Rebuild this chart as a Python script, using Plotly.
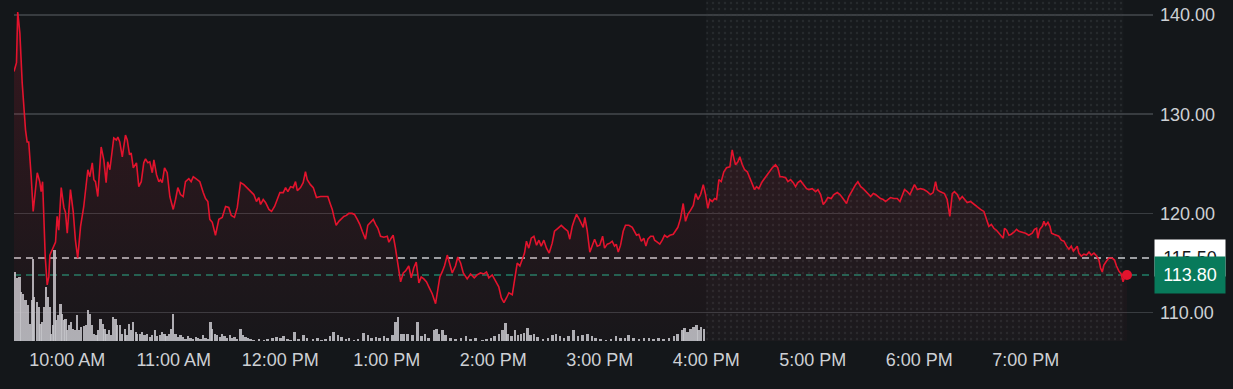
import pandas as pd
import plotly.graph_objects as go

# ---------------- data ----------------
session_date = "2024-06-12"
open_time = "09:30"

# price readings: minutes after the 9:30 open, and price
price_minutes = [
    0, 1.4, 2.1, 3.3, 4.6, 6.5, 7.4, 8.3, 9.7, 10.8,
    13.1, 14.5, 15.3, 16.1, 16.8, 17.6, 18.7, 19.6, 20.2, 22.1,
    23.4, 24.3, 25.2, 26.6, 28.1, 29.0, 30.0, 31.8, 33.4, 34.6,
    35.9, 37.5, 39.3, 41.6, 42.7, 44.1, 45.0, 45.9, 47.2, 49.1,
    50.6, 51.9, 52.8, 54.0, 55.3, 56.2, 57.7, 58.5, 59.6, 61.0,
    62.8, 63.8, 65.1, 66.0, 67.2, 68.5, 69.0, 70.3, 71.7, 73.1,
    74.1, 75.4, 76.5, 77.9, 78.8, 80.3, 81.6, 82.5, 83.5, 84.8,
    86.3, 87.8, 89.7, 91.0, 92.3, 93.8, 95.3, 96.6, 98.5, 99.8,
    101.0, 103.2, 104.7, 106.6, 107.9, 109.2, 110.3, 111.7, 113.5, 115.4,
    117.3, 119.2, 121.0, 122.4, 124.2, 125.8, 127.6, 129.5, 132.3, 135.1,
    136.6, 137.9, 138.9, 140.4, 141.7, 143.6, 145.1, 146.8, 148.3, 149.8,
    151.7, 153.0, 154.3, 155.8, 157.3, 158.6, 159.6, 161.4, 162.9, 164.2,
    165.2, 167.0, 168.6, 170.4, 172.7, 175.5, 176.8, 178.3, 179.3, 180.2,
    181.5, 183.0, 184.3, 185.8, 187.3, 188.6, 190.5, 191.8, 193.4, 194.8,
    196.2, 198.0, 199.3, 200.9, 202.4, 203.7, 205.0, 206.5, 208.4, 210.3,
    211.2, 212.5, 213.6, 214.9, 215.9, 216.8, 217.8, 219.3, 220.6, 222.4,
    223.8, 225.2, 226.6, 228.1, 229.4, 230.9, 232.4, 233.7, 235.6, 237.5,
    238.8, 239.9, 241.2, 242.5, 244.1, 245.5, 246.9, 248.7, 250.0, 251.6,
    253.1, 255.3, 257.2, 259.3, 260.9, 262.8, 264.7, 266.2, 267.5, 269.4,
    271.3, 273.1, 274.5, 276.0, 277.5, 278.8, 280.7, 282.0, 283.5, 285.0,
    286.3, 287.6, 288.7, 290.0, 291.4, 292.9, 294.4, 295.7, 297.0, 298.5,
    300.0, 301.5, 303.2, 304.5, 306.4, 308.3, 310.1, 312.0, 313.1, 314.5,
    315.8, 316.9, 318.2, 319.6, 320.7, 321.6, 322.9, 324.4, 325.8, 327.1,
    328.6, 330.0, 331.6, 332.7, 334.2, 335.7, 337.0, 338.3, 339.3, 340.4,
    341.7, 343.2, 344.5, 346.4, 348.3, 349.6, 350.7, 352.0, 353.4, 354.8,
    356.0, 357.1, 358.6, 360.1, 360.9, 362.4, 363.8, 365.2, 366.5, 368.0,
    369.5, 371.4, 372.7, 374.0, 375.5, 377.0, 378.3, 379.6, 381.1, 382.7,
    384.0, 385.3, 386.8, 388.3, 389.6, 390.9, 392.0, 393.4, 394.7, 395.8,
    397.1, 398.4, 399.9, 401.4, 403.3, 404.6, 405.5, 406.5, 407.8, 408.9,
    410.3, 411.6, 413.1, 414.6, 415.9, 417.2, 418.3, 419.6, 421.5, 423.4,
    425.2, 427.2, 429.0, 430.3, 431.5, 432.8, 434.7, 436.0, 437.5, 439.0,
    440.3, 441.6, 443.1, 444.6, 446.5, 447.8, 449.7, 451.6, 452.9, 454.4,
    455.9, 457.2, 458.5, 460.4, 461.9, 463.8, 465.3, 466.6, 467.9, 469.0,
    470.3, 472.3, 474.1, 475.4, 477.0, 478.4, 479.7, 481.0, 482.6, 484.1,
    485.4, 486.7, 488.2, 489.7, 491.0, 492.3, 493.8, 495.7, 497.6, 499.1,
    500.4, 501.7, 503.2, 504.7, 506.0, 507.3, 508.9, 510.7, 512.6, 514.5,
    516.3, 517.8, 519.2, 520.1, 521.6, 522.9, 524.2, 525.7, 527.2, 528.6,
    529.8, 531.4, 532.8, 534.2, 535.5, 537.0, 538.9, 540.8, 542.7, 544.5,
    546.4, 547.9, 549.2, 550.6, 552.0, 553.5, 554.8, 556.2, 557.3, 558.0,
    559.2, 560.5, 561.8, 563.3, 564.8, 566.1, 568.0, 569.9, 571.7, 573.6,
    574.9, 576.1, 576.8, 577.9, 579.3, 580.2, 581.2, 582.5, 583.6, 584.5,
    585.8, 587.3, 588.6, 590.0, 591.5, 593.0, 594.3, 595.6, 596.8, 598.1,
    599.0, 599.9, 601.3, 602.7, 604.2, 605.6, 606.9, 608.4, 609.9, 611.2,
    612.1, 613.1, 614.0, 615.5, 616.8, 618.7, 620.0, 621.1, 622.4, 623.7,
    624.8, 625.7, 627.0,
]
price = [
    134.3, 135.2, 140.3, 138.2, 133.2, 128.4, 127.2, 127.2, 123.7, 120.2,
    124.1, 123.2, 122.2, 123.2, 119.7, 115.6, 112.8, 113.6, 115.8, 116.6,
    117.1, 119.7, 118.3, 122.6, 120.6, 120.1, 118.0, 122.4, 120.1, 117.3,
    115.5, 118.7, 120.7, 124.4, 123.7, 125.1, 123.4, 123.2, 121.7, 126.7,
    125.4, 123.1, 125.2, 124.4, 126.7, 127.6, 127.4, 127.7, 127.2, 125.7,
    127.9, 127.4, 125.9, 126.1, 124.6, 124.9, 125.1, 122.7, 123.2, 125.1,
    125.5, 125.1, 125.2, 124.1, 125.4, 123.9, 123.2, 123.4, 123.1, 124.6,
    124.1, 121.7, 120.4, 121.4, 122.6, 121.9, 121.7, 123.2, 123.5, 123.2,
    123.7, 123.4, 123.2, 122.1, 121.5, 121.2, 119.4, 119.1, 117.8, 119.4,
    119.6, 120.7, 120.6, 119.8, 119.6, 120.6, 123.1, 122.9, 122.4, 121.9,
    121.2, 121.6, 120.9, 121.4, 121.1, 120.4, 120.2, 120.7, 121.4, 122.1,
    122.1, 122.6, 122.2, 122.7, 122.6, 123.2, 122.3, 122.6, 123.1, 124.2,
    123.4, 122.9, 122.6, 121.6, 121.7, 121.7, 121.7, 120.9, 120.4, 119.7,
    118.8, 119.2, 119.4, 119.7, 119.8, 120.0, 120.0, 119.9, 119.4, 118.9,
    118.2, 117.4, 118.8, 119.1, 119.4, 118.9, 118.5, 117.7, 117.6, 117.7,
    117.1, 117.5, 117.8, 116.5, 115.3, 114.0, 113.1, 114.0, 114.2, 114.7,
    113.5, 114.5, 115.1, 113.0, 113.6, 113.4, 113.1, 112.6, 111.9, 110.9,
    112.6, 113.6, 114.1, 114.7, 115.8, 114.8, 114.0, 114.7, 115.6, 115.0,
    114.0, 113.4, 113.9, 113.5, 113.8, 114.0, 113.9, 114.1, 113.5, 113.8,
    113.1, 112.6, 111.5, 111.0, 111.5, 112.0, 111.8, 113.3, 115.0, 114.7,
    115.3, 116.0, 117.2, 116.5, 117.5, 117.7, 116.8, 117.3, 116.7, 117.3,
    116.5, 116.0, 117.0, 118.2, 118.5, 118.8, 118.5, 118.2, 117.4, 118.7,
    119.4, 119.9, 119.5, 118.9, 118.6, 119.6, 118.3, 116.1, 116.8, 117.4,
    116.7, 116.8, 117.7, 116.5, 116.9, 117.0, 117.2, 116.7, 116.9, 116.1,
    116.8, 118.2, 118.8, 118.8, 118.6, 118.1, 117.8, 117.9, 117.2, 117.5,
    116.7, 117.4, 117.7, 117.7, 117.3, 117.1, 116.9, 117.3, 117.8, 117.6,
    117.8, 117.9, 118.2, 118.6, 119.5, 121.0, 119.2, 119.9, 120.3, 120.8,
    122.0, 121.4, 121.9, 122.9, 121.9, 120.5, 121.4, 121.2, 121.5, 121.4,
    123.4, 123.2, 124.2, 124.6, 124.7, 126.4, 125.6, 124.9, 125.2, 125.7,
    124.9, 124.4, 124.2, 123.6, 122.9, 122.4, 122.7, 122.5, 123.2, 123.7,
    124.1, 124.6, 124.9, 124.6, 123.7, 123.7, 123.6, 123.2, 123.4, 123.1,
    122.7, 123.1, 123.3, 122.9, 122.5, 122.4, 122.5, 122.2, 122.4, 121.9,
    120.9, 121.2, 121.6, 121.5, 121.9, 122.1, 121.9, 121.6, 121.2, 121.0,
    121.7, 122.4, 122.9, 123.2, 122.7, 122.5, 122.2, 122.0, 121.7, 122.0,
    121.9, 121.7, 121.5, 121.4, 121.2, 121.4, 121.6, 121.5, 121.5, 121.2,
    121.9, 122.4, 122.2, 121.9, 122.4, 122.9, 122.4, 122.5, 122.4, 122.2,
    121.9, 122.1, 123.2, 122.4, 122.2, 122.1, 122.0, 121.4, 119.7, 122.0,
    122.2, 121.9, 121.4, 121.7, 121.4, 121.1, 121.2, 120.9, 120.6, 120.4,
    120.2, 119.4, 118.7, 118.9, 118.5, 118.3, 118.0, 117.8, 117.5, 118.5,
    118.3, 117.8, 117.9, 118.1, 118.4, 118.2, 118.1, 118.0, 117.8, 118.0,
    118.4, 118.5, 117.5, 118.4, 118.7, 119.2, 118.8, 119.1, 118.7, 118.0,
    117.9, 117.8, 117.7, 117.3, 117.2, 116.7, 116.4, 116.7, 116.2, 116.5,
    116.7, 116.0, 115.7, 115.9, 115.8, 116.1, 115.8, 116.0, 115.7, 115.3,
    114.5, 114.1, 114.8, 115.2, 115.5, 115.5, 115.3, 114.7, 114.2, 113.9,
    113.1, 113.6, 113.8,
]

# volume readings (regular session), minutes after open and thousands of shares
volume_minutes = [
    0.6, 1.8, 3.1, 4.1, 5.2, 6.5, 7.9, 8.9, 9.9, 10.6,
    11.5, 13.0, 14.0, 14.9, 15.9, 16.8, 18.2, 19.3, 20.2, 21.0,
    21.9, 22.8, 23.8, 24.7, 26.2, 27.2, 28.1, 29.0, 30.0, 30.9,
    32.2, 33.4, 34.6, 35.6, 36.5, 37.9, 39.3, 40.8, 41.6, 42.7,
    44.1, 45.0, 46.5, 47.2, 48.7, 49.9, 51.0, 52.1, 53.4, 54.4,
    55.9, 57.2, 58.1, 59.6, 61.0, 62.3, 63.4, 64.7, 66.0, 67.2,
    68.5, 69.4, 70.9, 72.2, 73.5, 75.0, 76.5, 77.9, 79.2, 80.7,
    82.1, 83.5, 84.8, 85.9, 87.2, 88.6, 89.7, 91.0, 92.3, 93.8,
    95.3, 96.6, 97.9, 99.4, 101.0, 102.3, 103.6, 105.1, 106.6, 107.9,
    109.2, 110.7, 111.7, 113.0, 114.5, 116.0, 117.3, 118.6, 120.1, 121.6,
    122.9, 124.2, 125.8, 127.6, 129.1, 130.4, 131.7, 133.2, 134.9, 137.8,
    140.6, 142.8, 145.6, 147.9, 150.1, 151.8, 154.1, 155.8, 158.0, 160.3,
    163.1, 165.3, 168.2, 171.0, 173.2, 175.5, 177.8, 180.0, 182.3, 184.5,
    186.8, 188.5, 191.3, 193.6, 196.9, 199.2, 201.4, 203.7, 205.9, 208.2,
    210.4, 213.2, 214.9, 216.1, 217.8, 219.4, 221.7, 224.5, 227.3, 229.6,
    231.3, 233.5, 236.4, 238.0, 239.2, 241.4, 243.1, 245.9, 248.7, 251.6,
    254.4, 257.2, 260.0, 263.9, 266.2, 268.5, 270.7, 273.0, 275.2, 276.9,
    278.0, 280.3, 282.0, 283.7, 285.4, 287.1, 289.3, 291.0, 292.7, 294.9,
    297.8, 300.6, 303.4, 305.1, 307.4, 309.6, 312.4, 315.2, 317.5, 320.3,
    323.1, 325.4, 327.6, 330.4, 333.3, 336.1, 338.9, 341.7, 344.0, 346.2,
    349.0, 351.9, 354.7, 357.5, 360.3, 363.1, 365.9, 368.8, 371.6, 373.8,
    376.6, 377.7, 379.4, 381.1, 382.8, 384.5, 385.6, 386.8, 388.5,
]
volume_k = [
    207, 188, 192, 147, 141, 122, 107, 52, 122, 247,
    132, 117, 102, 51, 57, 102, 162, 132, 102, 22,
    47, 272, 62, 77, 112, 82, 62, 67, 32, 47,
    57, 37, 32, 77, 32, 42, 44, 47, 92, 82,
    47, 22, 17, 32, 67, 52, 37, 22, 32, 17,
    72, 67, 47, 47, 22, 37, 17, 52, 32, 57,
    27, 22, 22, 27, 17, 22, 12, 17, 32, 14,
    17, 27, 22, 14, 22, 37, 82, 22, 12, 17,
    12, 7, 14, 10, 7, 12, 10, 7, 17, 10,
    7, 57, 37, 22, 17, 12, 22, 14, 10, 17,
    10, 12, 7, 37, 17, 12, 10, 7, 4, 7,
    4, 7, 10, 12, 10, 14, 7, 4, 27, 7,
    17, 10, 7, 10, 4, 7, 14, 27, 17, 12,
    7, 10, 4, 7, 24, 17, 10, 12, 10, 14,
    10, 17, 57, 72, 22, 20, 22, 17, 57, 14,
    22, 10, 34, 37, 22, 32, 17, 10, 7, 10,
    14, 7, 10, 4, 7, 10, 14, 22, 32, 54,
    22, 14, 32, 17, 22, 24, 40, 17, 22, 12,
    7, 10, 17, 22, 14, 10, 14, 32, 14, 17,
    20, 14, 10, 7, 4, 7, 14, 10, 10, 17,
    10, 7, 10, 10, 7, 10, 7, 10, 14, 22,
    34, 40, 27, 37, 42, 47, 32, 42, 37,
]

hour_ticks = ["10:00", "11:00", "12:00", "13:00", "14:00", "15:00", "16:00", "17:00", "18:00", "19:00"]
hour_labels = ["10:00 AM", "11:00 AM", "12:00 PM", "1:00 PM", "2:00 PM", "3:00 PM",
               "4:00 PM", "5:00 PM", "6:00 PM", "7:00 PM"]
price_ticks = [110, 120, 130, 140]
price_tick_labels = ["110.00", "120.00", "130.00", "140.00"]

previous_close = 115.50
last_price = 113.80
after_hours_start = "16:00"
after_hours_end = "19:55"
view_end = "20:11:40"
price_view = [107.14, 141.51]
volume_view_max = 1023

assert len(price_minutes) == len(price)
assert len(volume_minutes) == len(volume_k)

# ---------------- build ----------------
t_open = pd.Timestamp(f"{session_date} {open_time}")
px_time = t_open + pd.to_timedelta(price_minutes, unit="m")
vol_time = t_open + pd.to_timedelta(volume_minutes, unit="m")
day = lambda hm: pd.Timestamp(f"{session_date} {hm}")

BG = "#14171a"
RED = "#e3132d"
GRID = "#383c40"
TICK = "#cdd0d4"
FONT = "Liberation Sans, Arial, sans-serif"

fig = go.Figure()

# after-hours dotted region (on volume axis, full height)
ah0, ah1 = day(after_hours_start), day(after_hours_end)
fig.add_trace(go.Scatter(
    x=[ah0, ah1, ah1, ah0, ah0], y=[0, 0, volume_view_max, volume_view_max, 0],
    mode="lines", line=dict(width=0), fill="toself",
    fillcolor="rgba(255,255,255,0.012)",
    fillpattern=dict(shape=".", size=6, solidity=0.12, fgcolor="#33373c",
                     bgcolor="rgba(255,255,255,0.012)"),
    hoverinfo="skip", yaxis="y", showlegend=False,
))

# volume bars
fig.add_trace(go.Bar(
    x=vol_time, y=volume_k, width=72000, yaxis="y",
    marker=dict(color="rgba(196,200,205,0.88)", line=dict(width=0)),
    showlegend=False, hovertemplate="%{y}K<extra></extra>",
))

# price area fill
fig.add_trace(go.Scatter(
    x=px_time, y=price, yaxis="y2", mode="lines", line=dict(width=0),
    fill="tozeroy",
    fillgradient=dict(type="vertical", start=price_view[0], stop=price_view[1],
                      colorscale=[[0, "rgba(225,25,50,0.02)"], [1, "rgba(225,25,50,0.17)"]]),
    hoverinfo="skip", showlegend=False,
))

# price line
fig.add_trace(go.Scatter(
    x=px_time, y=price, yaxis="y2", mode="lines",
    line=dict(color=RED, width=1.6), showlegend=False,
))

# last point dot
fig.add_trace(go.Scatter(
    x=[px_time[-1]], y=[price[-1]], yaxis="y2", mode="markers",
    marker=dict(color=RED, size=10), showlegend=False,
))

# reference lines
fig.add_shape(type="line", xref="paper", x0=0, x1=1, yref="y2",
              y0=previous_close, y1=previous_close, layer="between",
              line=dict(color="#c9ccd0", width=1.5, dash="7px,5px"))
fig.add_shape(type="line", xref="paper", x0=0, x1=1, yref="y2",
              y0=last_price, y1=last_price, layer="between",
              line=dict(color="#1f7f67", width=1.5, dash="7px,5px"))

# right-side price labels (the last-price box sits on top of the previous-close box)
fig.add_annotation(xref="paper", x=1, xanchor="left", xshift=1,
                   yref="y2", y=previous_close, yanchor="middle",
                   text=f"{previous_close:.2f}", showarrow=False,
                   bgcolor="#ffffff", font=dict(color="#15181b", size=18, family=FONT),
                   width=62, height=28, borderpad=4, align="center")
fig.add_annotation(xref="paper", x=1, xanchor="left", xshift=1,
                   yref="y2", y=last_price, yanchor="middle",
                   text=f"{last_price:.2f}", showarrow=False,
                   bgcolor="#087a5b", font=dict(color="#ffffff", size=18, family=FONT),
                   width=62, height=28, borderpad=4, align="center")

fig.update_layout(
    width=1233, height=389, autosize=False,
    margin=dict(l=14, r=80, t=0, b=48, autoexpand=False),
    paper_bgcolor=BG, plot_bgcolor=BG,
    font=dict(family=FONT, color=TICK, size=18),
    bargap=0, showlegend=False, hovermode=False,
    xaxis=dict(
        type="date", range=[t_open, day(view_end)], automargin=False,
        tickvals=[day(h) for h in hour_ticks], ticktext=hour_labels,
        showgrid=False, zeroline=False, showline=False, ticks="",
        tickfont=dict(size=18, color=TICK, family=FONT), ticklabelstandoff=6,
    ),
    yaxis=dict(range=[0, volume_view_max], visible=False, fixedrange=True, automargin=False),
    yaxis2=dict(
        overlaying="y", side="right", range=price_view, automargin=False,
        tickvals=price_ticks, ticktext=price_tick_labels,
        showgrid=True, gridcolor=GRID, gridwidth=1.5,
        zeroline=False, showline=False, ticks="",
        tickfont=dict(size=18, color=TICK, family=FONT), ticklabelstandoff=6,
    ),
)

fig.write_html(
    "out.html",
    config={"displayModeBar": False, "staticPlot": True},
    post_script="document.body.style.margin='0';document.body.style.background='#14171a';",
)
